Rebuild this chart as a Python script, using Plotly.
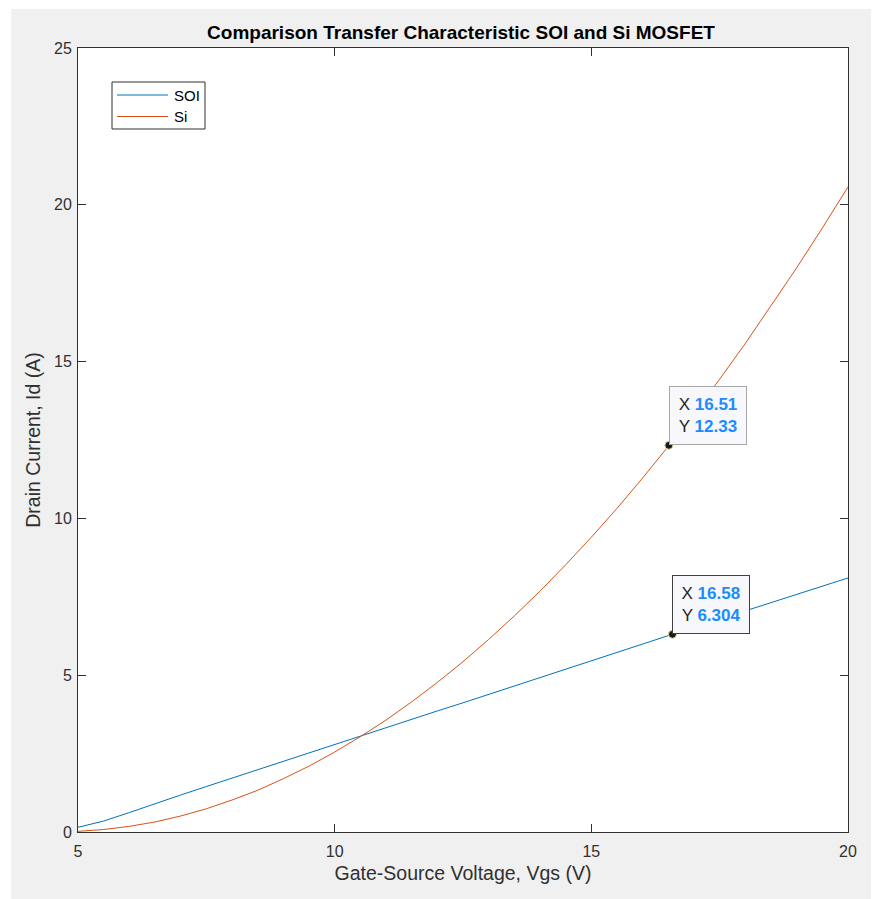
import plotly.graph_objects as go

# ---- data ----
vgs = [5.0, 5.5, 6.0, 6.5, 7.0, 7.5, 8.0, 8.5, 9.0, 9.5, 10.0, 10.5, 11.0, 11.5,
       12.0, 12.5, 13.0, 13.5, 14.0, 14.5, 15.0, 15.5, 16.0, 16.5, 17.0, 17.5,
       18.0, 18.5, 19.0, 19.5, 20.0]
id_soi = [0.15, 0.35, 0.62, 0.91, 1.18, 1.45, 1.72, 1.98, 2.25, 2.52, 2.79, 3.06,
          3.33, 3.59, 3.86, 4.12, 4.39, 4.65, 4.92, 5.19, 5.46, 5.73, 6.00, 6.26,
          6.53, 6.79, 7.05, 7.31, 7.58, 7.84, 8.10]
id_si = [0.02, 0.08, 0.18, 0.32, 0.51, 0.74, 1.02, 1.33, 1.70, 2.10, 2.55, 3.04,
         3.57, 4.15, 4.77, 5.43, 6.14, 6.89, 7.68, 8.52, 9.40, 10.32, 11.29, 12.30,
         13.35, 14.44, 15.58, 16.77, 17.99, 19.26, 20.57]

series_names = ["SOI", "Si"]
series_colors = ["#0072BD", "#D95319"]

tip_x = [16.51, 16.58]
tip_y = [12.33, 6.304]
tip_xlabel = ["16.51", "16.58"]
tip_ylabel = ["12.33", "6.304"]

x_ticks = [5, 10, 15, 20]
y_ticks = [0, 5, 10, 15, 20, 25]

FONT = "Liberation Sans, Arial, sans-serif"
AXC = "#303030"

# page body has an 8px margin; figure is sized to fit the 879x899 window
OFF = 8
W, H = 879 - OFF, 899 - OFF
L, R, T, B = 70, 31, 40, 67
pw, ph = W - L - R, H - T - B


def px(vx):  # viewport x -> paper x
    return (vx - OFF - L) / pw


def py(vy):  # viewport y -> paper y
    return (H - B - (vy - OFF)) / ph


fig = go.Figure()
for name, col, yy in zip(series_names, series_colors, [id_soi, id_si]):
    fig.add_trace(go.Scatter(x=vgs, y=yy, mode="lines", name=name,
                             line=dict(color=col, width=1), showlegend=False))
fig.add_trace(go.Scatter(x=tip_x, y=tip_y, mode="markers", showlegend=False,
                         marker=dict(color="#1a1a1a", size=8,
                                     line=dict(color="#e8e0a0", width=1))))

# figure (gray) background and white axes area
fig.add_shape(type="rect", xref="paper", yref="paper", layer="below",
              x0=px(11), x1=px(877), y0=py(899), y1=py(9),
              fillcolor="#f0f0f0", line=dict(width=0))
fig.add_shape(type="rect", xref="paper", yref="paper", layer="below",
              x0=0, x1=1, y0=0, y1=1, fillcolor="white", line=dict(width=0))

# legend (drawn as box + sample lines + labels)
fig.add_shape(type="rect", xref="paper", yref="paper", layer="above",
              x0=px(112), x1=px(205), y0=py(129), y1=py(82),
              fillcolor="rgba(0,0,0,0)", line=dict(color=AXC, width=1))
for i, (name, col) in enumerate(zip(series_names, series_colors)):
    vy = 95 + i * 21.5
    fig.add_shape(type="line", xref="paper", yref="paper", layer="above",
                  x0=px(117), x1=px(168), y0=py(vy), y1=py(vy),
                  line=dict(color=col, width=1))
    fig.add_annotation(x=px(172), y=py(vy), xref="paper", yref="paper",
                       text=name, showarrow=False, xanchor="left", yanchor="middle",
                       font=dict(family=FONT, size=15, color="black"))

# data tips
borders = ["#a8a8a8", "#404040"]
for xv, yv, xl, yl, bc in zip(tip_x, tip_y, tip_xlabel, tip_ylabel, borders):
    fig.add_annotation(
        x=xv, y=yv, xref="x", yref="y", showarrow=False,
        xanchor="left", yanchor="bottom", align="center",
        text=(f"X <b><span style='color:#1a8cff'>{xl}</span></b><br>"
              f"Y <b><span style='color:#1a8cff'>{yl}</span></b>"),
        font=dict(family=FONT, size=17, color="#262626"),
        bgcolor="#f8f8fc", bordercolor=bc, borderwidth=1, borderpad=3,
        width=70, height=51,
    )

fig.update_layout(
    width=W, height=H,
    margin=dict(l=L, r=R, t=T, b=B, pad=0),
    paper_bgcolor="white", plot_bgcolor="white",
    font=dict(family=FONT, size=16, color=AXC),
    showlegend=False,
    title=dict(text="<b>Comparison Transfer Characteristic SOI and Si MOSFET</b>",
               x=(461 - OFF) / W, xanchor="center", y=1 - (32 - OFF) / H,
               yanchor="middle",
               font=dict(family=FONT, size=19, color="black")),
    xaxis=dict(range=[5, 20], tickvals=x_ticks, showgrid=False, zeroline=False,
               showline=True, linecolor=AXC, linewidth=1, mirror="ticks",
               ticks="inside", ticklen=8, tickcolor=AXC, tickwidth=1,
               ticklabelstandoff=5,
               tickfont=dict(size=16, color=AXC),
               title=dict(text="Gate-Source Voltage, Vgs (V)", standoff=7,
                          font=dict(size=19.5, color=AXC))),
    yaxis=dict(range=[0, 25], tickvals=y_ticks, showgrid=False, zeroline=False,
               showline=True, linecolor=AXC, linewidth=1, mirror="ticks",
               ticks="inside", ticklen=8, tickcolor=AXC, tickwidth=1,
               ticklabelstandoff=2,
               tickfont=dict(size=16, color=AXC),
               title=dict(text="Drain Current, Id (A)", standoff=8,
                          font=dict(size=19.5, color=AXC))),
)

fig.write_html("out.html")
